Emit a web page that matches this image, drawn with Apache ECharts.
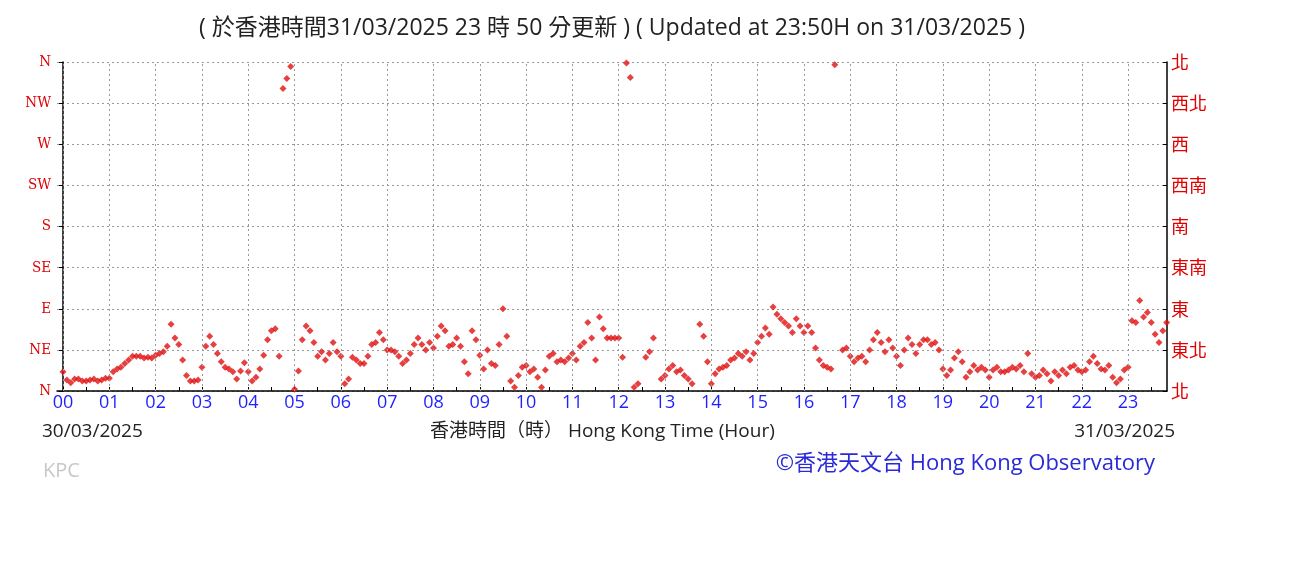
<!DOCTYPE html>
<html><head><meta charset="utf-8">
<script src="https://cdn.jsdelivr.net/npm/echarts@6/dist/echarts.min.js"></script>
<style>html,body{margin:0;padding:0;background:#fff}#c{width:1301px;height:566px}</style>
</head><body><div id="c"></div>
<script>
// wind direction (degrees) every 5 minutes, 30/03/2025 00:00 onward
const h00 = [21,12,9,13,13,11,11,12,13,11,12,14];
const h01 = [14,21,24,26,30,34,38,38,38,36,37,36];
const h02 = [39,41,43,49,73,58,51,34,17,11,11,12];
const h03 = [26,49,60,51,41,32,26,24,21,13,22,31];
const h04 = [21,11,15,24,39,56,66,68,38,331,342,355];
const h05 = [2,22,56,71,66,53,38,43,34,41,53,43];
const h06 = [38,8,13,37,34,30,30,38,51,53,64,56];
const h07 = [45,45,43,38,30,34,41,51,58,51,45,53];
const h08 = [47,60,71,66,49,51,58,49,32,19,66,56];
const h09 = [39,24,45,30,28,51,90,60,11,4,17,26];
const h10 = [28,21,24,15,4,23,38,41,32,34,32,36];
const h11 = [41,34,49,53,75,58,34,81,68,58,58,58];
const h12 = [58,37,359,343,4,8,null,37,43,58,null,13];
const h13 = [17,24,28,21,23,17,13,8,null,73,60,32];
const h14 = [8,19,24,26,28,34,36,41,38,43,34,41];
const h15 = [53,60,69,62,92,84,79,75,71,64,79,71];
const h16 = [64,71,64,47,34,28,26,24,357,null,45,47];
const h17 = [38,32,36,38,32,45,56,64,53,43,56,47];
const h18 = [38,28,45,58,51,41,51,56,56,51,53,45];
const h19 = [24,17,23,36,43,32,15,21,28,23,26,23];
const h20 = [15,23,26,21,21,23,26,24,28,21,41,19];
const h21 = [15,17,23,19,11,21,17,23,19,26,28,23];
const h22 = [21,23,32,38,30,24,23,28,15,9,13,23];
const h23 = [26,77,75,99,81,86,75,62,53,66,75,null];
const hourLabels = ['00','01','02','03','04','05','06','07','08','09','10','11','12','13','14','15','16','17','18','19','20','21','22','23'];
const dirEn = ['N','NE','E','SE','S','SW','W','NW','N'];
const dirZh = ['北','東北','東','東南','南','西南','西','西北','北'];

const hours = [h00,h01,h02,h03,h04,h05,h06,h07,h08,h09,h10,h11,h12,h13,h14,h15,h16,h17,h18,h19,h20,h21,h22,h23];
const pts = [];
hours.forEach((arr,h)=>arr.forEach((v,i)=>{ if(v!==null) pts.push([h+i/12, v]); }));
const hourVals = hourLabels.map((s,i)=>i);
const tickVals = []; for(let i=0;i<24;i++){tickVals.push(i); if(i+0.5<23.84) tickVals.push(i+0.5);}

const chart = echarts.init(document.getElementById('c'));
chart.setOption({
  animation:false,
  backgroundColor:'#fff',
  title:{text:'( 於香港時間31/03/2025 23 時 50 分更新 ) ( Updated at 23:50H on 31/03/2025 )',left:607,top:12,textAlign:'center',
    textStyle:{fontSize:23,fontWeight:'normal',color:'#222',fontFamily:'Open Sans, Noto Sans CJK TC'}},
  grid:{left:57,right:134,top:62,bottom:175},
  xAxis:{type:'value',min:-0.13,max:23.84,
    axisLine:{show:true,lineStyle:{color:'#000',width:1.5}},
    axisTick:{show:true,inside:true,length:4,customValues:tickVals,lineStyle:{color:'#000'}},
    axisLabel:{customValues:hourVals,formatter:v=>hourLabels[Math.round(v)],color:'#1f1fff',fontSize:18,margin:3,fontFamily:'Open Sans'},
    splitLine:{show:false}},
  yAxis:[
    {type:'value',min:0,max:360,interval:45,position:'left',
     axisLine:{show:true,lineStyle:{color:'#000',width:1.5}},
     axisTick:{show:true,length:4,lineStyle:{color:'#000'}},
     axisLabel:{formatter:v=>dirEn[v/45],color:'#e00000',fontSize:15,fontFamily:'DejaVu Serif Condensed',margin:6},
     splitLine:{show:true,lineStyle:{color:'#999',type:[2,3],width:1}}},
    {type:'value',min:0,max:360,interval:45,position:'right',
     axisLine:{show:true,lineStyle:{color:'#000',width:1.5}},
     axisTick:{show:true,inside:true,length:4,lineStyle:{color:'#000'}},
     axisLabel:{formatter:v=>dirZh[v/45],color:'#e00000',fontSize:18,fontFamily:'Noto Sans CJK TC',margin:4},
     splitLine:{show:false}}
  ],
  series:[
    {type:'scatter',data:[],silent:true,
     markLine:{silent:true,symbol:'none',label:{show:false},lineStyle:{color:'#999',type:[2,3],width:1},
       data:hourVals.map(v=>({xAxis:v}))}},
    {type:'scatter',data:pts,symbol:'diamond',symbolSize:7,itemStyle:{color:'#e01010'},silent:true}
  ],
  graphic:[
    {type:'text',left:42,top:422,style:{text:'30/03/2025',fontSize:19,fill:'#222',fontFamily:'Open Sans'}},
    {type:'text',right:126,top:422,style:{text:'31/03/2025',fontSize:19,fill:'#222',fontFamily:'Open Sans'}},
    {type:'text',left:430,top:422,style:{text:'香港時間（時） Hong Kong Time (Hour)',fontSize:19,fill:'#222',fontFamily:'Open Sans, Noto Sans CJK TC'}},
    {type:'text',left:43,top:461,style:{text:'KPC',fontSize:20,fill:'#c8c8c8',fontFamily:'Open Sans'}},
    {type:'text',right:146,top:453,style:{text:'©香港天文台 Hong Kong Observatory',fontSize:22,fill:'#2a2ad8',fontFamily:'Open Sans, Noto Sans CJK TC'}}
  ]
});
</script></body></html>
